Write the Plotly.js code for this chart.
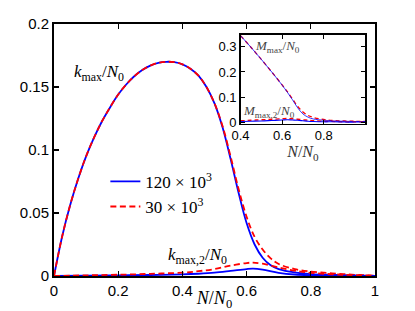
<!DOCTYPE html>
<html>
<head>
<meta charset="utf-8">
<script src="https://cdn.plot.ly/plotly-3.0.1.min.js"></script>
<style>html,body{margin:0;padding:0;background:#fff;}#chart{width:415px;height:311px;}</style>
</head>
<body>
<div id="chart"></div>
<script>
// Main panel data
var xMain = [0,0.025,0.05,0.075,0.1,0.125,0.15,0.175,0.2,0.225,0.25,0.275,0.3,0.325,0.35,0.375,0.4,0.425,0.45,0.475,0.5,0.525,0.55,0.575,0.6,0.625,0.65,0.675,0.7,0.75,0.8,0.85,0.9,0.95,1];
var kMaxBlue = [0,0.031,0.056,0.077,0.095,0.11,0.123,0.134,0.144,0.152,0.1585,0.1635,0.167,0.1692,0.17,0.1697,0.168,0.1645,0.159,0.15,0.137,0.118,0.093,0.066,0.042,0.025,0.0145,0.0085,0.0055,0.0028,0.0015,0.001,0.0006,0.0003,0];
var kMaxRed  = [0,0.031,0.056,0.077,0.095,0.11,0.123,0.134,0.144,0.152,0.1585,0.1635,0.167,0.1692,0.17,0.1697,0.168,0.1645,0.159,0.15,0.137,0.119,0.095,0.069,0.047,0.031,0.021,0.014,0.0095,0.0055,0.0035,0.0025,0.0015,0.0008,0.0003];
var xK2 = [0,0.1,0.2,0.3,0.4,0.45,0.5,0.55,0.6,0.62,0.65,0.7,0.75,0.8,0.9,1];
var kMax2Blue = [0,0.0002,0.0005,0.0008,0.0013,0.0018,0.0026,0.004,0.0055,0.0058,0.005,0.0025,0.0012,0.0007,0.0003,0];
var kMax2Red  = [0,0.0005,0.001,0.0017,0.0027,0.0038,0.0055,0.0082,0.0103,0.0106,0.0098,0.0068,0.0042,0.0025,0.001,0.0003];
// Inset data
var xIn = [0.4,0.45,0.5,0.55,0.6,0.625,0.65,0.675,0.7,0.725,0.75,0.8,0.85,0.9,0.95,1];
var mMaxBlue = [0.344,0.298,0.25,0.2,0.148,0.12,0.09,0.058,0.034,0.021,0.014,0.009,0.006,0.005,0.004,0.004];
var mMaxRed  = [0.344,0.298,0.25,0.2,0.149,0.122,0.093,0.064,0.042,0.028,0.02,0.012,0.008,0.006,0.005,0.004];
var mMax2Blue = [0.004,0.005,0.006,0.008,0.01,0.011,0.01,0.009,0.007,0.005,0.004,0.003,0.003,0.002,0.002,0.002];
var mMax2Red  = [0.007,0.009,0.011,0.013,0.015,0.016,0.015,0.013,0.011,0.009,0.007,0.005,0.004,0.003,0.003,0.003];
var seriesNames = ['120 × 10<sup>3</sup>', '30 × 10<sup>3</sup>'];

var BLUE = '#0000ff', RED = '#ff0000';
var dashStyle = '6px,3.5px';

var traces = [
  {x: xMain, y: kMaxBlue, mode: 'lines', name: seriesNames[0], line: {color: BLUE, width: 1.8, shape: 'spline', smoothing: 1}},
  {x: xMain, y: kMaxRed, mode: 'lines', name: seriesNames[1], line: {color: RED, width: 1.8, dash: dashStyle, shape: 'spline', smoothing: 1}},
  {x: xK2, y: kMax2Blue, mode: 'lines', showlegend: false, line: {color: BLUE, width: 1.8, shape: 'spline'}},
  {x: xK2, y: kMax2Red, mode: 'lines', showlegend: false, line: {color: RED, width: 1.8, dash: dashStyle, shape: 'spline'}},
  {x: xIn, y: mMaxRed, xaxis: 'x2', yaxis: 'y2', mode: 'lines', showlegend: false, line: {color: RED, width: 1.3, dash: '4px,3px', shape: 'spline'}},
  {x: xIn, y: mMaxBlue, xaxis: 'x2', yaxis: 'y2', mode: 'lines', showlegend: false, line: {color: BLUE, width: 0.8, shape: 'spline'}},
  {x: xIn, y: mMax2Red, xaxis: 'x2', yaxis: 'y2', mode: 'lines', showlegend: false, line: {color: RED, width: 1.3, dash: '4px,3px', shape: 'spline'}},
  {x: xIn, y: mMax2Blue, xaxis: 'x2', yaxis: 'y2', mode: 'lines', showlegend: false, line: {color: BLUE, width: 1.2, shape: 'spline'}}
];

var serif = 'Liberation Serif, Times New Roman, serif';
var sans = 'Liberation Sans, Arial, sans-serif';

var layout = {
  width: 415, height: 311,
  margin: {l: 54, r: 39.5, t: 23.5, b: 35},
  paper_bgcolor: '#fff', plot_bgcolor: 'rgba(0,0,0,0)',
  font: {family: sans, size: 15, color: '#000'},
  showlegend: true,
  legend: {x: 0.16, y: 0.445, xanchor: 'left', yanchor: 'top', bgcolor: 'rgba(0,0,0,0)',
           font: {family: serif, size: 17, color: '#000'}, tracegroupgap: 0, itemwidth: 30},
  xaxis: {domain: [0, 1], range: [0, 1], tickvals: [0,0.2,0.4,0.6,0.8,1], ticktext: ['0','0.2','0.4','0.6','0.8','1'],
          ticks: 'inside', ticklen: 5, tickwidth: 1.3, tickcolor: '#000', showline: true, linewidth: 2, linecolor: '#000',
          mirror: 'ticks', showgrid: false, zeroline: false, tickfont: {family: sans, size: 15},
          title: {text: '<i>N</i>/<i>N</i><sub>0</sub>', font: {family: serif, size: 18}, standoff: 1}},
  yaxis: {domain: [0, 1], range: [0, 0.2], tickvals: [0,0.05,0.1,0.15,0.2], ticktext: ['0','0.05','0.1','0.15','0.2'],
          ticks: 'inside', ticklen: 5, tickwidth: 1.3, tickcolor: '#000', showline: true, linewidth: 2, linecolor: '#000',
          mirror: 'ticks', showgrid: false, zeroline: false, tickfont: {family: sans, size: 15}},
  xaxis2: {domain: [0.581, 0.97], anchor: 'y2', range: [0.4, 1.0], tickvals: [0.4,0.6,0.8], ticktext: ['0.4','0.6','0.8'],
           ticks: 'inside', ticklen: 4, tickwidth: 1, tickcolor: '#000', showline: true, linewidth: 1.3, linecolor: '#000',
           mirror: 'ticks', showgrid: false, zeroline: false, tickfont: {family: sans, size: 13},
           title: {text: '<i>N</i>/<i>N</i><sub>0</sub>', font: {family: serif, size: 16, color: '#333'}, standoff: 1}},
  yaxis2: {domain: [0.605, 0.958], anchor: 'x2', range: [-0.004, 0.348], tickvals: [0,0.1,0.2,0.3], ticktext: ['0','0.1','0.2','0.3'],
           ticks: 'inside', ticklen: 4, tickwidth: 1, tickcolor: '#000', showline: true, linewidth: 1.3, linecolor: '#000',
           mirror: 'ticks', showgrid: false, zeroline: false, tickfont: {family: sans, size: 13}},
  annotations: [
    {x: 0.057, y: 0.161, xref: 'x', yref: 'y', xanchor: 'left', yanchor: 'middle', showarrow: false,
     text: '<i>k</i><sub>max</sub>/<i>N</i><sub>0</sub>', font: {family: serif, size: 17, color: '#000'}},
    {x: 0.35, y: 0.0155, xref: 'x', yref: 'y', xanchor: 'left', yanchor: 'middle', showarrow: false,
     text: '<i>k</i><sub>max,2</sub>/<i>N</i><sub>0</sub>', font: {family: serif, size: 17, color: '#000'}},
    {x: 0.46, y: 0.302, xref: 'x2', yref: 'y2', xanchor: 'left', yanchor: 'middle', showarrow: false,
     text: '<i>M</i><sub>max</sub>/<i>N</i><sub>0</sub>', font: {family: serif, size: 13, color: '#444'}},
    {x: 0.403, y: 0.042, xref: 'x2', yref: 'y2', xanchor: 'left', yanchor: 'middle', showarrow: false,
     text: '<i>M</i><sub>max,2</sub>/<i>N</i><sub>0</sub>', font: {family: serif, size: 13, color: '#444'}}
  ]
};

Plotly.newPlot('chart', traces, layout, {staticPlot: true, displayModeBar: false});
</script>
</body>
</html>
